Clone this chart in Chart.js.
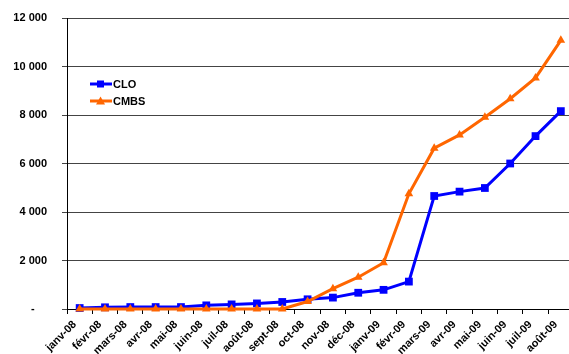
<!DOCTYPE html>
<html>
<head>
<meta charset="utf-8">
<script src="https://cdn.jsdelivr.net/npm/chart.js@4/dist/chart.umd.min.js"></script>
<style>
  html, body { margin: 0; padding: 0; background: #fff; }
  #wrap { width: 569px; height: 354px; overflow: hidden; }
</style>
</head>
<body>
<div id="wrap"><canvas id="c" width="579" height="354"></canvas></div>
<script>
// Monthly outstanding amounts, janv-08 to août-09
const months = ['janv-08','févr-08','mars-08','avr-08','mai-08','juin-08','juil-08','août-08','sept-08','oct-08',
                'nov-08','déc-08','janv-09','févr-09','mars-09','avr-09','mai-09','juin-09','juil-09','août-09'];
const cloValues  = [40, 70, 80, 80, 80, 150, 190, 230, 290, 400, 470, 670, 790, 1130, 4660, 4840, 4990, 6000, 7130, 8160];
const cmbsValues = [0, 0, 0, 0, 0, 0, 0, 0, 0, 310, 840, 1310, 1910, 4750, 6630, 7180, 7910, 8670, 9530, 11080];
const yTicks = [0, 2000, 4000, 6000, 8000, 10000, 12000];

// Thousands separated by a space; zero shown as a dash, accounting style
const fmt = v => v === 0 ? '-\u2007\u2007' : String(v).replace(/\B(?=(\d{3})+(?!\d))/g, '\u00a0');
const FONT = 'Liberation Sans, Arial, sans-serif';

// Legend drawn inside the plot area, top-left
const innerLegend = {
  id: 'innerLegend',
  afterDraw(chart) {
    const ctx = chart.ctx;
    const items = chart.data.datasets;
    ctx.save();
    items.forEach((ds, i) => {
      const y = 84 + i * 17;
      const x0 = 90, x1 = 112, xm = 100.5;
      ctx.strokeStyle = ds.borderColor;
      ctx.lineWidth = 3;
      ctx.beginPath(); ctx.moveTo(x0, y); ctx.lineTo(x1, y); ctx.stroke();
      ctx.fillStyle = ds.borderColor;
      if (ds.pointStyle === 'rect') {
        ctx.fillRect(xm - 3.5, y - 3.5, 7, 7);
      } else {
        ctx.beginPath();
        ctx.moveTo(xm, y - 4.5); ctx.lineTo(xm + 4.5, y + 3.5); ctx.lineTo(xm - 4.5, y + 3.5);
        ctx.closePath(); ctx.fill();
      }
      ctx.fillStyle = '#000';
      ctx.font = 'bold 11px ' + FONT;
      ctx.textBaseline = 'middle';
      ctx.textAlign = 'left';
      ctx.fillText(ds.label, x1 + 1, y + 0.5);
    });
    ctx.restore();
  }
};

new Chart(document.getElementById('c'), {
  type: 'line',
  data: {
    labels: months,
    datasets: [
      { label: 'CLO', data: cloValues, borderColor: '#0000ff', backgroundColor: '#0000ff', clip: false, order: 1,
        borderWidth: 3, pointStyle: 'rect', pointRadius: 5.5, pointBorderWidth: 0, tension: 0 },
      { label: 'CMBS', data: cmbsValues, borderColor: '#ff6600', backgroundColor: '#ff6600', clip: false, order: 0,
        borderWidth: 3, pointStyle: 'triangle', pointRadius: 5, pointBorderWidth: 0, tension: 0 }
    ]
  },
  options: {
    responsive: false,
    animation: false,
    layout: { padding: { top: 18, right: 0, left: 0, bottom: 0 } },
    plugins: { legend: { display: false }, tooltip: { enabled: false } },
    scales: {
      x: {
        offset: true,
        grid: { drawOnChartArea: false, offset: true, tickLength: 5, color: '#000' },
        border: { color: '#000', width: 1 },
        ticks: {
          autoSkip: false, minRotation: 45, maxRotation: 45, padding: 4, labelOffset: -5,
          color: '#000', font: { family: FONT, size: 11, weight: 'bold' }
        },
        afterFit(s) { s.height = 45; s.paddingLeft = 0; s.paddingRight = 0; }
      },
      y: {
        min: 0, max: 12000,
        afterBuildTicks(s) { s.ticks = yTicks.map(v => ({ value: v })); },
        grid: { color: '#444', lineWidth: 1, tickLength: 5 },
        border: { color: '#000', width: 1 },
        ticks: {
          padding: 15, color: '#000',
          font: { family: FONT, size: 11, weight: 'bold' },
          callback: v => fmt(v)
        },
        afterFit(s) { s.width = 67; s.paddingTop = 0; s.paddingBottom = 0; }
      }
    }
  },
  plugins: [innerLegend]
});
</script>
</body>
</html>
